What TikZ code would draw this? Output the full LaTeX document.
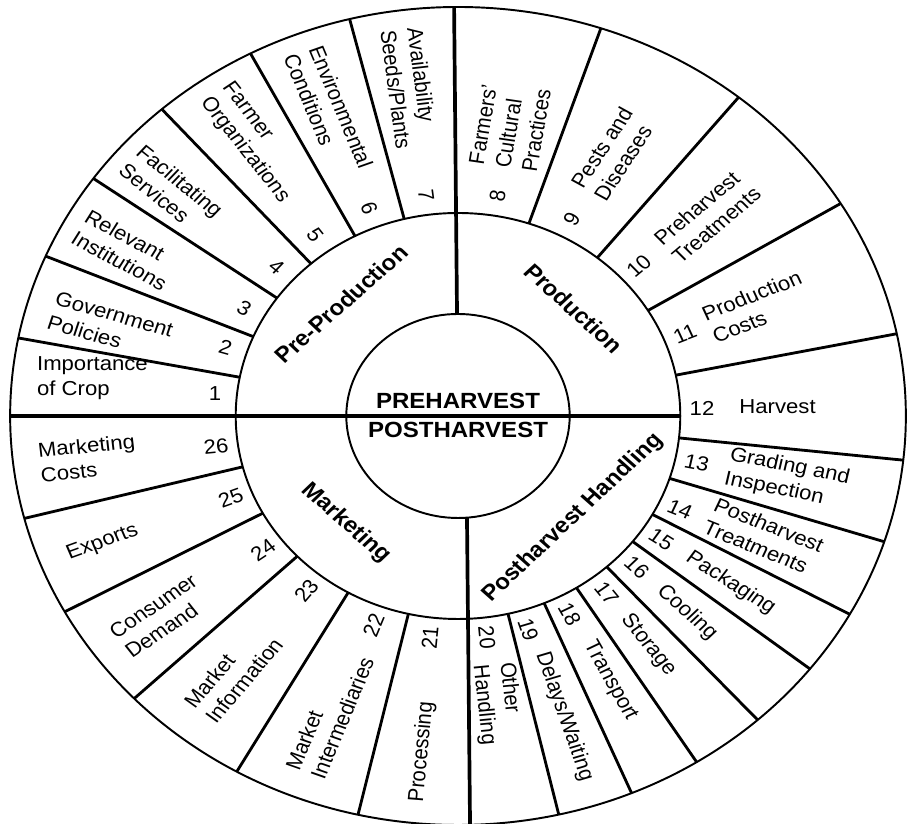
\documentclass[tikz,border=0pt]{standalone}
\usepackage{fontspec}
\setmainfont{Liberation Sans}
\usetikzlibrary{positioning}
\tikzset{
  ring/.style={line width=1.1pt},
  spoke/.style={line width=1.6pt},
  divider/.style={line width=2.1pt},
  item/.style={font=\fontsize{11.5}{14}\selectfont, align=left, inner sep=0pt, transform shape},
  itemno/.style={font=\fontsize{11.5}{14}\selectfont, inner sep=0pt, transform shape},
  stage/.style={font=\fontsize{12.5}{15}\selectfont\bfseries, inner sep=0pt, transform shape}
}

\begin{document}
\begin{tikzpicture}[x=0.2mm, y=0.2mm]
\useasboundingbox (0,0) rectangle (907,824);
\begin{scope}[shift={(458,408)}, xscale=1.095]
% rings
\draw[ring] (0,0) circle[radius=409];
\draw[ring] (0,0) circle[radius=203];
\draw[ring] (0,0) circle[radius=102];
% quarter dividers
\draw[divider] (90.5:102) -- (90.5:409);
\draw[divider] (8.2,-101.7) -- (11,-408.9);
\draw[divider] (180:409) -- (0:203);
% spokes between the items
\foreach \a in {169,157,144.5,131.4,117.6,104,71.4,51.2,31.3,11.6,-6.2,-17.9,-29,-38.2,-48,-57.8,-67.2,-77,-102.9,-119.6,-136.3,-151.4,-165.5}
  \draw[spoke] (\a:203) -- (\a:409);

% centre
\coordinate (hub) at (0,0);
\node[stage, above=4pt of hub] (pre) {PREHARVEST};
\node[stage, below=3.5pt of hub] (post) {POSTHARVEST};

% stages
\node[stage, rotate=44] (preprod) at (133.6:154.8) {Pre-Production};
\node[stage, rotate=-44.5] (prod) at (45.5:151) {Production};
\node[stage, rotate=45.8] (handling) at (-44.2:146.4) {Postharvest Handling};
\node[stage, rotate=-43.7] (marketing) at (-133.7:148) {Marketing};

% item numbers
\foreach \n/\a/\rot in {1/174.2/0, 2/162.1/-17, 3/151.1/-30, 4/138/-41, 5/125.8/-54,
    6/111.3/-69, 7/97.5/-83, 8/80.7/81, 9/62.2/59, 10/42.2/42, 11/21.6/23, 12/2/0,
    13/-12.1/-12, 14/-24.7/-23.5, 15/-33.6/-34, 16/-42.9/-44, 17/-52.5/-53,
    18/-62.8/-62.5, 19/-73.3/-72, 20/-83.2/-85, 21/-96.6/85, 22/-110.2/69,
    23/-128.4/52, 24/-143/36, 25/-158.5/21.5, 26/-172.1/6}
  \node[itemno, rotate=\rot] (no\n) at (\a:223) {\n};

% items
\node[item] (importance) at (173.5:336) {Importance\\of Crop};
\node[item, rotate=-17] (policies) at (164.2:330) {Government\\Policies};
\node[item, rotate=-30] (institutions) at (151.3:345.5) {Relevant\\Institutions};
\node[item, rotate=-41] (services) at (139.2:346) {Facilitating\\Services};
\node[item, rotate=-54] (organizations) at (124.1:330) {Farmer\\Organizations};
\node[item, rotate=-69] (environment) at (111.2:327) {Environmental\\Conditions};
\node[item, rotate=-83] (seeds) at (97.7:331) {Availability\\Seeds/Plants};
\node[item, rotate=81] (practices) at (80.7:293) {Farmers'\\Cultural\\Practices};
\node[item, rotate=59] (pests) at (61.6:298) {Pests and\\Diseases};
\node[item, rotate=42.5] (pretreat) at (41.3:303) {Preharvest\\Treatments};
\node[item, rotate=23] (prodcosts) at (21.8:294) {Production\\Costs};
\node[item] (harvest) at (1.8:292) {Harvest};
\node[item, rotate=-12] (grading) at (-11.8:307) {Grading and\\Inspection};
\node[item, rotate=-23.5] (posttreat) at (-23.3:304) {Postharvest\\Treatments};
\node[item, rotate=-34.5] (packaging) at (-33.9:300) {Packaging};
\node[item, rotate=-44] (cooling) at (-43.2:287) {Cooling};
\node[item, rotate=-53] (storage) at (-52.8:287.6) {Storage};
\node[item, rotate=-62.5] (transport) at (-62.3:299) {Transport};
\node[item, rotate=-72] (delays) at (-72.1:315.7) {Delays/Waiting};
\node[item, rotate=-84] (other) at (-82.9:290) {Other\\Handling};
\node[item, rotate=85] (processing) at (-95.6:337.6) {Processing};
\node[item, rotate=69] (intermediaries) at (-111.5:320) {Market\\Intermediaries};
\node[item, rotate=52] (information) at (-128.6:329) {Market\\Information};
\node[item, rotate=36] (demand) at (-143.6:337) {Consumer\\Demand};
\node[item, rotate=21.5] (exports) at (-158.7:348.5) {Exports};
\node[item, rotate=6] (mktcosts) at (-172.9:340.7) {Marketing\\Costs};
\end{scope}
\end{tikzpicture}
\end{document}
